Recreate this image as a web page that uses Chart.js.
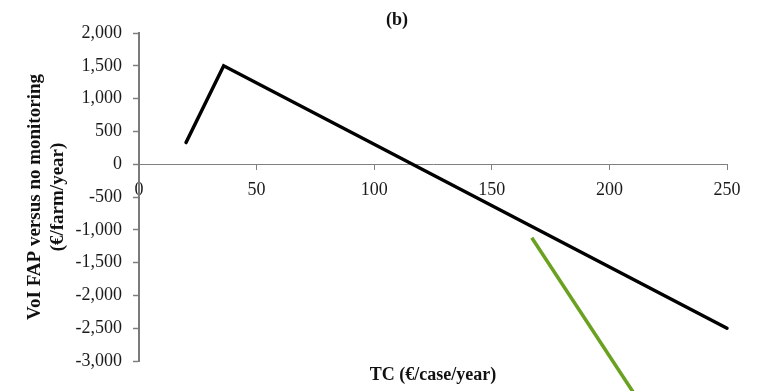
<!DOCTYPE html>
<html>
<head>
<meta charset="utf-8">
<script src="https://cdn.jsdelivr.net/npm/chart.js@4.4.1/dist/chart.umd.min.js"></script>
<style>
html,body{margin:0;padding:0;background:#fff;}
#wrap{width:764px;height:391px;}
</style>
</head>
<body>
<div id="wrap"><canvas id="c" width="764" height="391"></canvas></div>
<script>
const chartTitle = '(b)';
const xTitle = 'TC (€/case/year)';
const yTitle = ['VoI FAP versus no monitoring', '(€/farm/year)'];

const blackX = [20, 36, 250];
const blackY = [330, 1500, -2500];
const greenX = [167, 210];
const greenY = [-1120, -3470];

const xMin = 0, xMax = 250, xStep = 50;
const yMin = -3000, yMax = 2000, yStep = 500;

const toPts = (xs, ys) => xs.map((x, i) => ({x: x, y: ys[i]}));
const serif = '"Liberation Serif", "Times New Roman", serif';

new Chart(document.getElementById('c'), {
  type: 'line',
  data: {
    datasets: [
      {
        data: toPts(blackX, blackY),
        borderColor: '#000000',
        borderWidth: 3.5,
        borderCapStyle: 'round',
        pointRadius: 0,
        tension: 0,
        fill: false,
        clip: false
      },
      {
        data: toPts(greenX, greenY),
        borderColor: '#6aa121',
        borderWidth: 3.5,
        borderCapStyle: 'butt',
        pointRadius: 0,
        tension: 0,
        fill: false,
        clip: false
      }
    ]
  },
  options: {
    responsive: false,
    animation: false,
    locale: 'en-US',
    layout: {padding: {left: 67, right: 37, top: 0, bottom: 0}},
    plugins: {
      legend: {display: false},
      tooltip: {enabled: false},
      title: {
        display: true,
        text: chartTitle,
        color: '#111',
        font: {family: serif, size: 18, weight: 'bold', lineHeight: 1.2},
        padding: {top: 10, bottom: 1.4}
      },
      subtitle: {
        display: true,
        position: 'bottom',
        fullSize: false,
        text: xTitle,
        color: '#111',
        font: {family: serif, size: 18, weight: 'bold', lineHeight: 1.2},
        padding: {top: 3.2, bottom: 5.2}
      }
    },
    scales: {
      x: {
        type: 'linear',
        position: {y: 0},
        min: xMin,
        max: xMax,
        ticks: {
          stepSize: xStep,
          color: '#1a1a1a',
          font: {family: serif, size: 18},
          padding: 10,
          maxRotation: 0
        },
        grid: {
          drawOnChartArea: false,
          drawTicks: true,
          tickLength: 5,
          tickWidth: 1,
          tickColor: '#808080'
        },
        border: {display: true, color: '#808080', width: 1}
      },
      y: {
        type: 'linear',
        position: 'left',
        min: yMin,
        max: yMax,
        afterFit: (s) => { s.width = 72; },
        ticks: {
          stepSize: yStep,
          color: '#1a1a1a',
          font: {family: serif, size: 18},
          padding: 11
        },
        grid: {
          drawOnChartArea: false,
          drawTicks: true,
          tickLength: 6,
          tickWidth: 1.5,
          tickColor: '#808080'
        },
        border: {display: true, color: '#7a7a7a', width: 2},
        title: {
          display: true,
          text: yTitle,
          color: '#111',
          font: {family: serif, size: 19, weight: 'bold', lineHeight: 1.2105},
          padding: {top: -43.5, bottom: 0}
        }
      }
    }
  }
});
</script>
</body>
</html>
